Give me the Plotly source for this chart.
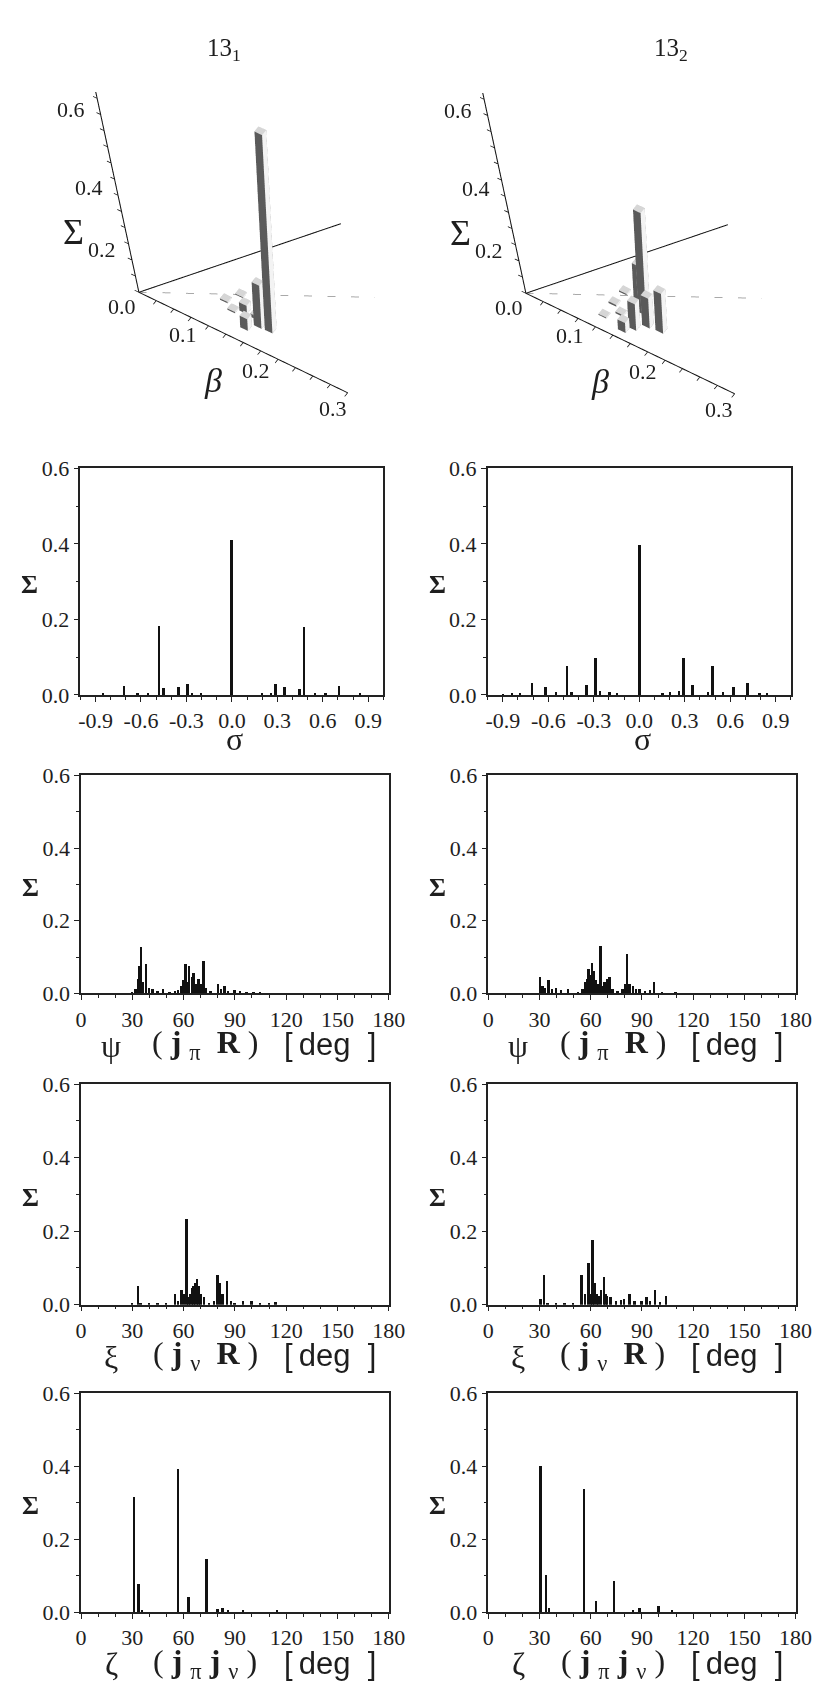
import numpy as np
import plotly.graph_objects as go

W, H = 822, 1693

col_titles = ["13<sub>1</sub>", "13<sub>2</sub>"]

# ---------------- 3D panels: beta, gamma [deg], Sigma ----------------
d3_beta_1 = [0.172, 0.157, 0.142, 0.135, 0.150, 0.120, 0.110, 0.130]
d3_gamma_1 = [14, 15, 11, 23, 20, 22, 30, 35]
d3_sigma_1 = [0.60, 0.13, 0.035, 0.025, 0.010, 0.004, 0.004, 0.003]

d3_beta_2 = [0.150, 0.144, 0.176, 0.158, 0.143, 0.132, 0.122, 0.112, 0.127, 0.102]
d3_gamma_2 = [24, 30, 15, 16, 12, 8, 20, 28, 38, 15]
d3_sigma_2 = [0.31, 0.12, 0.12, 0.09, 0.08, 0.03, 0.005, 0.005, 0.004, 0.003]

sig3d_ticklabels = ["0.0", "0.2", "0.4", "0.6"]
sig3d_tickvals = [0.0, 0.2, 0.4, 0.6]
beta_ticklabels = ["0.1", "0.2", "0.3"]
beta_tickvals = [0.1, 0.2, 0.3]
sig3d_minor = [0.05 * i for i in range(13)]
beta_minor = [0.025 * i for i in range(1, 13)]

# ---------------- sigma distributions ----------------
sig1_x = [-0.85, -0.71, -0.62, -0.55, -0.48, -0.45, -0.35, -0.29, -0.26, -0.2, 0.0,
          0.2, 0.26, 0.29, 0.35, 0.45, 0.48, 0.55, 0.62, 0.71, 0.85]
sig1_y = [0.004, 0.024, 0.004, 0.004, 0.181, 0.017, 0.020, 0.029, 0.005, 0.002, 0.409,
          0.002, 0.004, 0.029, 0.020, 0.015, 0.180, 0.004, 0.004, 0.024, 0.004]
sig2_x = [-0.9, -0.84, -0.79, -0.71, -0.62, -0.55, -0.48, -0.45, -0.35, -0.29, -0.26, -0.2, -0.15,
          0.0, 0.15, 0.2, 0.26, 0.29, 0.35, 0.45, 0.48, 0.55, 0.62, 0.71, 0.79, 0.84]
sig2_y = [0.001, 0.005, 0.003, 0.030, 0.020, 0.007, 0.076, 0.006, 0.025, 0.096, 0.009, 0.007, 0.003,
          0.397, 0.003, 0.007, 0.009, 0.096, 0.025, 0.007, 0.076, 0.007, 0.020, 0.030, 0.003, 0.005]

# ---------------- psi (j_pi, R) ----------------
psi1_x = [30, 32, 33.8, 34.4, 35.3, 36.5, 38.2, 40, 42, 45, 48, 52, 55, 57, 58.5, 60, 61.3, 62.5,
          63.5, 65, 66, 67.5, 69, 70, 71.8, 73, 76, 80.3, 82, 84, 86, 90, 93, 97, 101, 105]
psi1_y = [0.004, 0.01, 0.04, 0.074, 0.128, 0.03, 0.08, 0.015, 0.01, 0.005, 0.012, 0.004, 0.006,
          0.008, 0.02, 0.035, 0.079, 0.03, 0.075, 0.045, 0.055, 0.025, 0.04, 0.025, 0.089, 0.015,
          0.005, 0.025, 0.01, 0.02, 0.006, 0.008, 0.005, 0.004, 0.003, 0.002]
psi2_x = [30.6, 32, 33.5, 35.7, 37.5, 40, 43, 47, 53, 55.5, 57, 58, 59, 60, 61.2, 62.3, 63.5, 64.5,
          66, 67, 68.5, 70, 71.4, 73, 76, 79, 80.5, 81.6, 83, 85, 87, 89, 92, 95, 97.5, 102, 110]
psi2_y = [0.044, 0.02, 0.015, 0.035, 0.01, 0.015, 0.008, 0.01, 0.004, 0.01, 0.03, 0.04, 0.066,
          0.05, 0.082, 0.06, 0.035, 0.025, 0.13, 0.02, 0.03, 0.04, 0.043, 0.01, 0.005, 0.01,
          0.025, 0.108, 0.025, 0.02, 0.01, 0.01, 0.005, 0.008, 0.03, 0.004, 0.002]

# ---------------- xi (j_nu, R) ----------------
xi1_x = [30, 33.5, 35, 40, 45, 50, 55, 57, 59, 60.5, 61.8, 63, 64, 65, 66, 67, 68, 69, 70, 72,
         75, 78, 80, 81.5, 83, 85.5, 88, 90, 95, 100, 105, 110, 114]
xi1_y = [0.003, 0.05, 0.005, 0.003, 0.003, 0.005, 0.03, 0.01, 0.04, 0.03, 0.232, 0.02, 0.03,
         0.045, 0.05, 0.06, 0.07, 0.05, 0.03, 0.02, 0.005, 0.01, 0.08, 0.06, 0.03, 0.065, 0.01,
         0.005, 0.01, 0.01, 0.004, 0.003, 0.008]
xi2_x = [31, 33, 35, 40, 45, 50, 55, 57, 59, 60.5, 61.3, 62.5, 64, 65, 66.5, 68, 69, 70, 72, 75,
         78, 80, 83, 86, 90, 93, 95, 98, 101, 104.5]
xi2_y = [0.015, 0.082, 0.005, 0.003, 0.003, 0.005, 0.08, 0.03, 0.113, 0.03, 0.176, 0.06, 0.03,
         0.025, 0.04, 0.075, 0.03, 0.025, 0.02, 0.01, 0.012, 0.015, 0.03, 0.01, 0.01, 0.02, 0.01,
         0.04, 0.008, 0.025]

# ---------------- zeta (j_pi, j_nu) ----------------
zeta1_x = [31, 33.8, 36, 57, 63, 73.5, 80, 83, 86, 95, 115]
zeta1_y = [0.315, 0.075, 0.005, 0.392, 0.04, 0.145, 0.008, 0.01, 0.005, 0.003, 0.003]
zeta2_x = [31, 34, 36, 56.5, 63.5, 74, 85, 89, 100, 108]
zeta2_y = [0.40, 0.102, 0.01, 0.337, 0.03, 0.085, 0.005, 0.01, 0.015, 0.005]

sig_tickvals = [-0.9, -0.6, -0.3, 0.0, 0.3, 0.6, 0.9]
sig_ticktext = ["-0.9", "-0.6", "-0.3", "0.0", "0.3", "0.6", "0.9"]
deg_tickvals = [0, 30, 60, 90, 120, 150, 180]
deg_ticktext = ["0", "30", "60", "90", "120", "150", "180"]
y_tickvals = [0.0, 0.2, 0.4, 0.6]
y_ticktext = ["0.0", "0.2", "0.4", "0.6"]

xlab_greek = ["σ", "ψ", "ξ", "ζ"]
xlab_paren = [None,
              "( <b>j</b> <sub>π</sub>&nbsp; <b>R</b> )",
              "( <b>j</b> <sub>ν</sub>&nbsp; <b>R</b> )",
              "( <b>j</b> <sub>π</sub>&nbsp;<b>j</b> <sub>ν</sub> )"]
deg_label = "[\u2009deg\u00a0\u00a0]"

SERIF = "Liberation Serif"
SANS = "Liberation Sans"
INK = "#1e1e1e"

fig = go.Figure()


def px(x):
    return x / W


def py(y):
    return 1 - y / H


# ================= 3D scenes =================
xr = [-0.04, 0.32]
yr = [-0.04, 0.28]
zr = [0.0, 0.62]

# screen images (px, y up) of unit data steps along x (beta, gamma=0), y, z
A = np.array([700.0, -337.0])
B = np.array([377.6, 460.0])
C = np.array([-17.4, 332.5])
M = np.array([[A[0] * A[1], B[0] * B[1]], [A[0] ** 2 - A[1] ** 2, B[0] ** 2 - B[1] ** 2]])
rhs = -np.array([C[0] * C[1], C[0] ** 2 - C[1] ** 2])
pq = np.linalg.solve(M, rhs)
sq = np.sqrt([pq[0], pq[1], 1.0])
row0 = np.array([A[0] * sq[0], B[0] * sq[1], C[0]])
row1 = np.array([A[1] * sq[0], B[1] * sq[1], C[1]])
S_PX = np.linalg.norm(row0)
r0 = row0 / S_PX
r1 = row1 / np.linalg.norm(row1)
vdir = np.cross(r0, r1)
scl = 1.0 / sq
KS = 3.0
DOM_H = 354.0
DIST = 0.986 * (DOM_H / 2) / ((S_PX / KS) * np.tan(np.pi / 8))

# top of the drawn Sigma axis (slanted as in the reference drawing)
sig_top_screen = np.array([-42.0, 195.0])
dxy = np.linalg.solve(np.array([[A[0], B[0]], [A[1], B[1]]]), sig_top_screen - 0.6 * C)
SIG_AX = (dxy[0] / 0.6, dxy[1] / 0.6)


def make_camera(origin_px, center_px):
    lo = np.array([xr[0], yr[0], zr[0]])
    hi = np.array([xr[1], yr[1], zr[1]])
    sc = scl * KS
    boxc = (lo + hi) / 2
    v0 = (np.zeros(3) - boxc) * sc
    S = S_PX / KS
    dx = (origin_px[0] - center_px[0]) / S
    dy = -(origin_px[1] - center_px[1]) / S
    c = v0 - dx * r0 - dy * r1
    eye = c + DIST * vdir
    asp = sc * (hi - lo)
    return (dict(eye=dict(x=eye[0], y=eye[1], z=eye[2]),
                 center=dict(x=c[0], y=c[1], z=c[2]),
                 up=dict(x=r1[0], y=r1[1], z=r1[2]),
                 projection=dict(type="orthographic")),
            dict(x=asp[0], y=asp[1], z=asp[2]))


def bars3d(betas, gammas, sigmas, scene, d=0.011):
    X, Y, Z, I, J, K, FC = [], [], [], [], [], [], []
    cols = ["#8a8a8a", "#8a8a8a", "#d6d6d6", "#d6d6d6", "#5a5a5a", "#5a5a5a",
            "#f3f3f3", "#f3f3f3", "#9a9a9a", "#9a9a9a", "#9a9a9a", "#9a9a9a"]
    for b, g, s in zip(betas, gammas, sigmas):
        xc = b * np.cos(np.radians(g))
        yc = b * np.sin(np.radians(g))
        x0, x1, y0, y1 = xc - d / 2, xc + d / 2, yc - d / 2, yc + d / 2
        n = len(X)
        X += [x0, x1, x1, x0, x0, x1, x1, x0]
        Y += [y0, y0, y1, y1, y0, y0, y1, y1]
        Z += [0, 0, 0, 0, s, s, s, s]
        I += [n + k for k in [0, 0, 4, 4, 0, 0, 1, 1, 2, 2, 3, 3]]
        J += [n + k for k in [1, 2, 5, 6, 1, 5, 2, 6, 3, 7, 0, 4]]
        K += [n + k for k in [2, 3, 6, 7, 5, 4, 6, 5, 7, 6, 4, 7]]
        FC += cols
    fig.add_trace(go.Mesh3d(x=X, y=Y, z=Z, i=I, j=J, k=K, facecolor=FC, flatshading=True,
                            lighting=dict(ambient=1, diffuse=0, specular=0, roughness=1, fresnel=0),
                            hoverinfo="skip", scene=scene, showscale=False))


def axes3d(scene):
    g60 = np.radians(60)
    gd = np.radians(34.5)
    bmax = 0.3
    fig.add_trace(go.Scatter3d(x=[0, SIG_AX[0] * 0.62, None, 0, bmax, None, 0, bmax * np.cos(g60)],
                               y=[0, SIG_AX[1] * 0.62, None, 0, 0, None, 0, bmax * np.sin(g60)],
                               z=[0, 0.62, None, 0, 0, None, 0, 0],
                               mode="lines", line=dict(color="#111111", width=2),
                               hoverinfo="skip", scene=scene, showlegend=False))
    fig.add_trace(go.Scatter3d(x=[0, bmax * np.cos(gd)], y=[0, bmax * np.sin(gd)],
                               z=[0, 0], mode="lines",
                               line=dict(color="#8c8c8c", width=1.5, dash="longdash"),
                               hoverinfo="skip", scene=scene, showlegend=False))
    tx, ty, tz = [], [], []
    for v in sig3d_minor:
        ax_, ay_ = SIG_AX[0] * v, SIG_AX[1] * v
        tx += [ax_, ax_ - 0.006, None]
        ty += [ay_, ay_, None]
        tz += [v, v, None]
    for v in beta_minor:
        tx += [v, v, None]
        ty += [0, -0.008, None]
        tz += [0, 0, None]
    fig.add_trace(go.Scatter3d(x=tx, y=ty, z=tz, mode="lines",
                               line=dict(color="#111111", width=1.5),
                               hoverinfo="skip", scene=scene, showlegend=False))


SIG_LBL_SHIFT = [(-17, -14), (-23, -22), (-22, -24), (-26, -11)]
BETA_LBL_SHIFT = [(-25, -9), (-22, -11), (-15, -16)]


def scene_annotations():
    ann = []
    base = dict(showarrow=False, xanchor="center", yanchor="middle")
    for v, t, sh in zip(sig3d_tickvals, sig3d_ticklabels, SIG_LBL_SHIFT):
        ann.append(dict(x=SIG_AX[0] * v, y=SIG_AX[1] * v, z=v, text=t, xshift=sh[0], yshift=sh[1],
                        font=dict(family=SERIF, size=22, color=INK), **base))
    for v, t, sh in zip(beta_tickvals, beta_ticklabels, BETA_LBL_SHIFT):
        ann.append(dict(x=v, y=0, z=0, text=t, xshift=sh[0], yshift=sh[1],
                        font=dict(family=SERIF, size=22, color=INK), **base))
    ann.append(dict(x=SIG_AX[0] * 0.25, y=SIG_AX[1] * 0.25, z=0.25, text="Σ", xshift=-48, yshift=-20,
                    font=dict(family=SERIF, size=36, color=INK), **base))
    ann.append(dict(x=0.15, y=0, z=0, text="<i>β</i>", xshift=-30, yshift=-38,
                    font=dict(family=SERIF, size=34, color=INK), **base))
    return ann


scene_specs = [
    ("scene", [0, 400], (130, 276), (200, 235), d3_beta_1, d3_gamma_1, d3_sigma_1),
    ("scene2", [398, 798], (528, 277), (598, 235), d3_beta_2, d3_gamma_2, d3_sigma_2),
]
for name, dx, origin, center, bb, gg, ss in scene_specs:
    cam, asp = make_camera(origin, center)
    bars3d(bb, gg, ss, name)
    axes3d(name)
    fig.layout[name] = dict(
        domain=dict(x=[px(dx[0]), px(dx[1])], y=[py(58 + DOM_H), py(58)]),
        xaxis=dict(visible=False, range=xr),
        yaxis=dict(visible=False, range=yr),
        zaxis=dict(visible=False, range=zr),
        aspectmode="manual", aspectratio=asp, camera=cam, bgcolor="white",
        annotations=scene_annotations())

# ================= 2D panels =================
rows_y = [(455, 685), (766.7, 988), (1080, 1304), (1394, 1616)]
cols_x = [[(68.3, 380), (69, 385.5), (69, 385.5), (69, 385.5)],
          [(487.3, 799.3), (488, 804), (488, 804), (488, 804)]]
panel_data = [[(sig1_x, sig1_y), (sig2_x, sig2_y)],
              [(psi1_x, psi1_y), (psi2_x, psi2_y)],
              [(xi1_x, xi1_y), (xi2_x, xi2_y)],
              [(zeta1_x, zeta1_y), (zeta2_x, zeta2_y)]]

annotations = []


def pann(x, y, text, font):
    annotations.append(dict(x=px(x), y=py(y), xref="paper", yref="paper", text=text,
                            showarrow=False, xanchor="center", yanchor="middle", font=font))


for ci, t in enumerate(col_titles):
    pann([216, 676][ci], 30, t, dict(family=SERIF, size=25, color=INK))

n = 0
for ri in range(4):
    for ci in range(2):
        n += 1
        xs, ys = panel_data[ri][ci]
        x0, x1 = cols_x[ci][ri]
        yt, yb = rows_y[ri]
        xa = "x" if n == 1 else f"x{n}"
        ya = "y" if n == 1 else f"y{n}"
        wbar = 0.016 if ri == 0 else 1.1
        fig.add_trace(go.Bar(x=xs, y=ys, width=wbar, marker=dict(color="#111111", line=dict(width=0)),
                             xaxis=xa, yaxis=ya, showlegend=False, hoverinfo="skip"))
        common = dict(showline=True, linecolor="#222222", linewidth=1.5, mirror=True,
                      ticks="outside", ticklen=5, tickwidth=1.2, tickcolor="#222222",
                      showgrid=False, zeroline=False,
                      tickfont=dict(family=SERIF, size=22, color=INK))
        if ri == 0:
            xcfg = dict(range=[-1, 1], tickmode="array", tickvals=sig_tickvals, ticktext=sig_ticktext,
                        minor=dict(tickmode="linear", tick0=0, dtick=0.1, ticks="outside", ticklen=3,
                                   tickcolor="#222222", tickwidth=1))
        else:
            xcfg = dict(range=[0, 180], tickmode="array", tickvals=deg_tickvals, ticktext=deg_ticktext,
                        minor=dict(tickmode="linear", tick0=0, dtick=10, ticks="outside", ticklen=3,
                                   tickcolor="#222222", tickwidth=1))
        ycfg = dict(range=[0, 0.6], tickmode="array", tickvals=y_tickvals, ticktext=y_ticktext,
                    minor=dict(tickmode="linear", tick0=0, dtick=0.1, ticks="outside", ticklen=3,
                               tickcolor="#222222", tickwidth=1))
        xkey = "xaxis" if n == 1 else f"xaxis{n}"
        ykey = "yaxis" if n == 1 else f"yaxis{n}"
        fig.layout[xkey] = dict(domain=[px(x0), px(x1)], anchor=ya, **xcfg, **common)
        fig.layout[ykey] = dict(domain=[py(yb), py(yt)], anchor=xa, **ycfg, **common)

        pann(x0 - 52, (yt + yb) / 2 + 3, "<b>Σ</b>", dict(family=SERIF, size=26, color=INK))
        if ri == 0:
            pann((x0 + x1) / 2 + 3, yb + 45, xlab_greek[0], dict(family=SERIF, size=32, color=INK))
        else:
            pann(x0 + 31, yb + 53, xlab_greek[ri], dict(family=SERIF, size=32, color=INK))
            pann(x0 + 128, yb + 52, xlab_paren[ri], dict(family=SERIF, size=32, color=INK))
            pann(x0 + 256, yb + 52, deg_label, dict(family=SANS, size=31, color=INK))

fig.update_layout(width=W, height=H, margin=dict(l=0, r=0, t=0, b=0),
                  paper_bgcolor="white", plot_bgcolor="white", showlegend=False,
                  annotations=annotations, bargap=0)

fig.write_html("out.html")
